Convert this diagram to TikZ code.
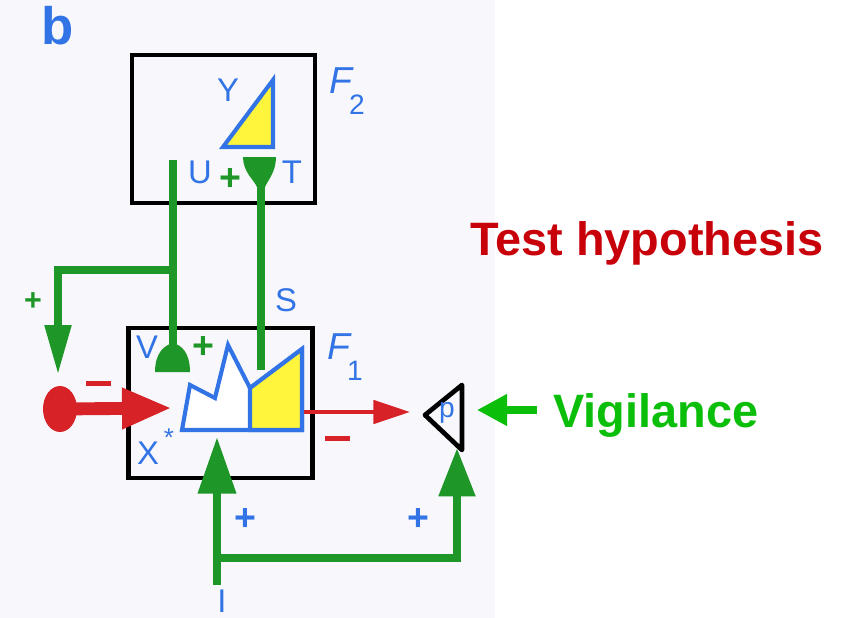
\documentclass[tikz,border=0pt]{standalone}
\usepackage{fontspec}
\setmainfont{Liberation Sans}
\usepackage{tikz}
\usetikzlibrary{arrows.meta,positioning,shapes.geometric}
\definecolor{lblue}{RGB}{50,115,230}
\definecolor{dgreen}{RGB}{30,150,40}
\definecolor{vgreen}{RGB}{10,190,10}
\definecolor{ared}{RGB}{215,35,40}
\definecolor{hred}{RGB}{200,0,10}
\definecolor{cyellow}{RGB}{255,245,60}
\definecolor{paper}{RGB}{248,248,252}
\tikzstyle{fbox}=[
draw,
line width=4pt,
inner sep=0pt
]
\tikzstyle{lbl}=[
text=lblue,
inner sep=0pt,
font=\fontsize{28}{28}\selectfont
]
\tikzstyle{plus}=[
inner sep=0pt,
font=\fontsize{32}{32}\selectfont\bfseries
]
\tikzstyle{minus}=[
fill=ared,
minimum width=0.75cm,
minimum height=0.15cm,
inner sep=0pt
]
\tikzstyle{trace}=[
draw=lblue,
line width=3.5pt,
line join=miter
]
\tikzstyle{gline}=[
draw=dgreen,
line width=7pt
]
\tikzstyle{garrow}=[
gline,
-{Triangle[length=1.7cm,width=1.1cm]}
]
\tikzstyle{big}=[
inner sep=0pt,
font=\fontsize{40}{40}\selectfont\bfseries
]

\begin{document}
\begin{tikzpicture}[x=0.03cm,y=-0.03cm]
\useasboundingbox (0,0) rectangle (842,618);
\fill[paper] (0,0) rectangle (495,618);

\node[lbl, font=\fontsize{45}{45}\selectfont\bfseries] (panel) at (58,26) {b};

% the two fields
\node (F2) [fbox, minimum width=5.49cm, minimum height=4.44cm] at (223.5,129) {};
\node (F1) [fbox, minimum width=5.52cm, minimum height=4.5cm] at (220.5,403) {};

\node (f2name) [lbl, font=\fontsize{32}{32}\selectfont\itshape] at (341,81) {F};
\node (f2sub) [lbl, font=\fontsize{24}{24}\selectfont] at (357,105) {2};
\node (f1name) [lbl, font=\fontsize{32}{32}\selectfont\itshape] at (339,347) {F};
\node (f1sub) [lbl, font=\fontsize{24}{24}\selectfont] at (355,371) {1};

% F2 pattern
\filldraw[trace, fill=cyellow] (223,147) -- (273,80) -- (273,147) -- cycle;
\node (y) [lbl] at (228,90) {Y};
\node (u) [lbl] at (200,172) {U};
\node (t) [lbl] at (292,172) {T};
\node (uplus) [plus, text=dgreen] at (230,180) {+};

% F1 activity
\filldraw[trace, fill=white] (182,430) -- (190,385) -- (215,398) -- (228,345)
  -- (250,388) -- (302,349) -- (302,430) -- cycle;
\filldraw[trace, fill=cyellow] (250,388) -- (302,349) -- (302,430) -- (250,430) -- cycle;
\node (v) [lbl] at (147,347) {V};
\node (vplus) [plus, text=dgreen] at (203,348) {+};
\node (x) [lbl] at (148,453) {X};
\node (xstar) [lbl, font=\fontsize{22}{22}\selectfont] at (169,438) {*};
\node (s) [lbl] at (286,300) {S};

% top-down pathway
\coordinate (utop) at (173,160);
\coordinate (usplit) at (173,270);
\coordinate (vcup) at (173,345);
\coordinate (leftbend) at (58,270);
\coordinate (lefttip) at (58,375);
\draw[gline] (utop) -- (vcup);
\fill[dgreen] (155,372) .. controls (155,352) and (165,345) .. (173,343)
  .. controls (181,345) and (190,352) .. (190,372) -- cycle;
\draw[gline, line join=miter, -{Triangle[length=1.5cm,width=0.75cm]}] (usplit) -- (leftbend) -- (lefttip);
\node (lplus) [plus, text=dgreen, font=\fontsize{26}{26}\selectfont\bfseries] at (33,302) {+};

% bottom-up signal S
\coordinate (tstem) at (261,186);
\coordinate (send) at (261,370);
\fill[dgreen] (243,157) -- (276,157) .. controls (276,172) and (268,180) .. (265,187)
  -- (257,187) .. controls (254,180) and (243,172) .. (243,157) -- cycle;
\draw[gline] (tstem) -- (send);

% inhibitory input
\node (dot) [ellipse, fill=ared, minimum width=1.02cm, minimum height=1.38cm, inner sep=0pt] at (60,409) {};
\coordinate (redtip) at (172,408);
\draw[ared, line width=11pt, -{Triangle[length=1.5cm,width=1.14cm]}] (dot.center) -- (redtip);
\node (inminus) [minus] at (98,383) {};

% vigilance node
\draw[line width=4pt, line join=round] (425,415) -- (462,385) -- (462,450) -- cycle;
\node (p) [lbl, font=\fontsize{24}{24}\selectfont] at (447,413) {p};
\coordinate (outstart) at (304,412);
\coordinate (outtip) at (410,412);
\draw[ared, line width=3.4pt, -{Triangle[length=1.1cm,width=0.7cm]}] (outstart) -- (outtip);
\node (outminus) [minus] at (337,438) {};

% input I
\coordinate (istart) at (217,585);
\coordinate (isplit) at (217,558);
\coordinate (itip) at (217,437);
\coordinate (pbend) at (457,558);
\coordinate (ptip) at (457,448);
\draw[garrow] (istart) -- (itip);
\draw[gline, line join=miter, -{Triangle[length=1.45cm,width=1.05cm]}] (isplit) -- (pbend) -- (ptip);
\node (iplus) [plus, text=lblue] at (245,520) {+};
\node (pplus) [plus, text=lblue] at (418,520) {+};
\node (i) [lbl] at (222,601) {I};

% captions
\node (hyp) [big, text=hred, anchor=base west] at (470,255) {Test hypothesis};
\node (vig) [big, text=vgreen, anchor=base west] at (553,427) {Vigilance};
\coordinate (vigtail) at (537,410);
\coordinate (vigtip) at (477,410);
\draw[vgreen, line width=6pt, -{Triangle[length=0.9cm,width=0.9cm]}] (vigtail) -- (vigtip);

\end{tikzpicture}
\end{document}
